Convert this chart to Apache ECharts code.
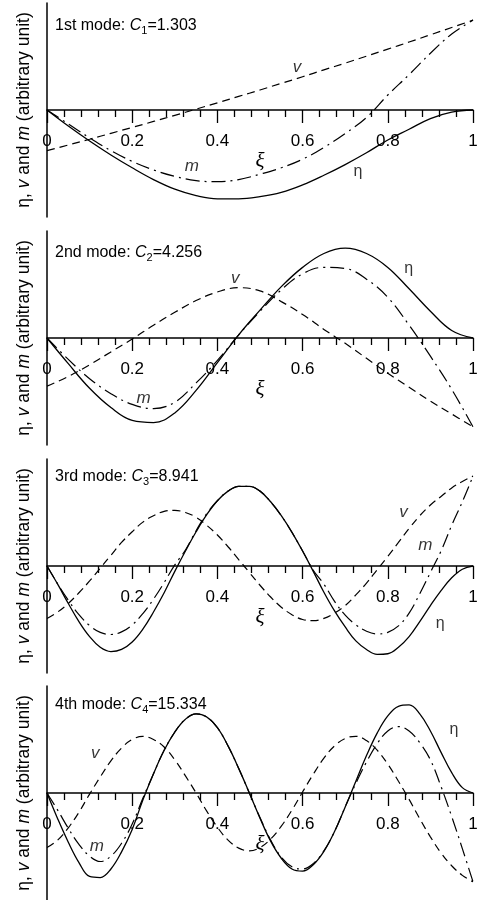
<!DOCTYPE html>
<html>
<head>
<meta charset="utf-8">
<script src="https://cdn.jsdelivr.net/npm/echarts@6/dist/echarts.min.js"></script>
<style>
html,body{margin:0;padding:0;background:#fff;}
#c{width:485px;height:900px;}
</style>
</head>
<body>
<div id="c"></div>
<script>
// ---- data ----
const xiCoarse = [0,0.05,0.1,0.15,0.2,0.25,0.3,0.35,0.4,0.45,0.5,0.55,0.6,0.65,0.7,0.75,0.8,0.85,0.9,0.95,1];
const xiFine = [0,0.025,0.05,0.075,0.1,0.125,0.15,0.175,0.2,0.225,0.25,0.275,0.3,0.325,0.35,0.375,0.4,0.425,0.45,0.475,0.5,
                0.525,0.55,0.575,0.6,0.625,0.65,0.675,0.7,0.725,0.75,0.775,0.8,0.825,0.85,0.875,0.9,0.925,0.95,0.975,1];
const xTickLabels = ['0','0.2','0.4','0.6','0.8','1'];
const modeNames = ['1st','2nd','3rd','4th'];
const modeC = ['1.303','4.256','8.941','15.334'];

// mode 1 (sampled on xiCoarse)
const eta1 = [0,-0.15,-0.29,-0.42,-0.54,-0.65,-0.74,-0.80,-0.83,-0.83,-0.81,-0.77,-0.70,-0.61,-0.51,-0.40,-0.28,-0.18,-0.08,-0.02,0];
const v1   = [-0.38,-0.327,-0.273,-0.218,-0.163,-0.107,-0.05,0.008,0.067,0.127,0.187,0.249,0.311,0.375,0.438,0.503,0.569,0.635,0.703,0.771,0.84];
const m1   = [0,-0.13,-0.26,-0.38,-0.48,-0.56,-0.62,-0.66,-0.67,-0.65,-0.60,-0.54,-0.46,-0.35,-0.22,-0.07,0.14,0.33,0.53,0.71,0.84];

// mode 2 (sampled on xiCoarse)
const eta2 = [0,-0.24,-0.47,-0.65,-0.77,-0.79,-0.70,-0.49,-0.23,0.03,0.26,0.48,0.66,0.79,0.84,0.79,0.66,0.46,0.25,0.07,0];
const v2   = [-0.45,-0.36,-0.25,-0.13,-0.01,0.12,0.24,0.35,0.43,0.47,0.44,0.34,0.22,0.08,-0.05,-0.19,-0.33,-0.46,-0.59,-0.71,-0.83];
const m2   = [0,-0.20,-0.38,-0.52,-0.62,-0.66,-0.60,-0.42,-0.21,0.03,0.25,0.45,0.60,0.66,0.65,0.55,0.38,0.12,-0.17,-0.48,-0.83];

// mode 3 (sampled on xiFine)
const eta3 = [0,-0.17,-0.35,-0.52,-0.66,-0.76,-0.80,-0.78,-0.71,-0.59,-0.43,-0.25,-0.05,0.14,0.32,0.48,0.61,0.70,0.745,0.745,0.70,
              0.60,0.47,0.315,0.14,-0.05,-0.245,-0.42,-0.57,-0.70,-0.78,-0.825,-0.82,-0.76,-0.66,-0.52,-0.37,-0.23,-0.11,-0.03,0];
const v3   = [-0.49,-0.43,-0.35,-0.25,-0.14,-0.02,0.10,0.22,0.32,0.41,0.47,0.51,0.52,0.50,0.455,0.38,0.29,0.18,0.06,-0.06,-0.18,
              -0.29,-0.385,-0.455,-0.50,-0.51,-0.49,-0.44,-0.37,-0.27,-0.16,-0.035,0.09,0.22,0.35,0.47,0.57,0.65,0.73,0.79,0.84];
const m3   = [0,-0.167,-0.32,-0.455,-0.556,-0.62,-0.64,-0.616,-0.55,-0.445,-0.31,-0.155,0.01,0.15,0.33,0.49,0.61,0.70,0.745,0.745,0.70,
              0.60,0.47,0.315,0.14,-0.04,-0.17,-0.33,-0.46,-0.55,-0.61,-0.635,-0.62,-0.56,-0.44,-0.26,-0.06,0.14,0.38,0.60,0.84];

// mode 4 (sampled on xiFine)
const eta4 = [0,-0.24,-0.46,-0.65,-0.78,-0.79,-0.71,-0.55,-0.34,-0.065,0.18,0.40,0.57,0.69,0.74,0.71,0.61,0.44,0.23,0,-0.235,
              -0.45,-0.61,-0.71,-0.73,-0.67,-0.545,-0.36,-0.13,0.11,0.35,0.56,0.72,0.81,0.823,0.74,0.58,0.38,0.19,0.05,0];
const v4   = [-0.51,-0.44,-0.325,-0.18,-0.01,0.15,0.30,0.42,0.50,0.53,0.50,0.43,0.31,0.16,0,-0.17,-0.32,-0.44,-0.515,-0.54,-0.51,
              -0.43,-0.31,-0.16,0.01,0.175,0.325,0.44,0.51,0.53,0.49,0.40,0.27,0.11,-0.06,-0.24,-0.41,-0.56,-0.68,-0.77,-0.83];
const m4   = [0,-0.16,-0.33,-0.48,-0.59,-0.64,-0.59,-0.47,-0.29,-0.05,0.18,0.40,0.57,0.69,0.74,0.71,0.61,0.44,0.23,0,-0.23,
              -0.44,-0.60,-0.69,-0.71,-0.66,-0.54,-0.36,-0.13,0.09,0.29,0.46,0.58,0.62,0.58,0.47,0.31,0.06,-0.22,-0.52,-0.83];

const xiAll = [xiCoarse, xiCoarse, xiFine, xiFine];
const etaAll = [eta1, eta2, eta3, eta4];
const vAll = [v1, v2, v3, v4];
const mAll = [m1, m2, m3, m4];

// curve label anchors (data coordinates): [xi, value, text]
const curveLabels = [
  [[0.587, 0.40, 'v'], [0.34, -0.53, 'm'], [0.73, -0.58, 'η']],
  [[0.442, 0.56, 'v'], [0.227, -0.56, 'm'], [0.849, 0.65, 'η']],
  [[0.837, 0.50, 'v'], [0.888, 0.19, 'm'], [0.923, -0.54, 'η']],
  [[0.113, 0.37, 'v'], [0.117, -0.50, 'm'], [0.955, 0.59, 'η']]
];

// ---- layout / style ----
const FONT = 'Liberation Sans, Arial, sans-serif';
const gridTops = [3, 231, 459, 686];
const gridH = 214;
const titleTops = [16, 243, 467, 695];

const grids = [], xAxes = [], yAxes = [], series = [], titles = [];
for (let i = 0; i < 4; i++) {
  grids.push({left: 47, right: 12, top: gridTops[i], height: gridH, outerBoundsMode: 'none', containLabel: false});
  xAxes.push({
    type: 'value', gridIndex: i, min: 0, max: 1, interval: 0.2,
    position: 'bottom', offset: -gridH / 2,
    axisLine: {show: true, onZero: false, lineStyle: {color: '#000', width: 1.5}},
    axisTick: {show: true, length: 13, lineStyle: {color: '#000', width: 1.3}},
    minorTick: {show: true, splitNumber: 5, length: 7, lineStyle: {color: '#000', width: 1.3}},
    splitLine: {show: false}, minorSplitLine: {show: false},
    axisLabel: {color: '#000', fontSize: 17, fontFamily: FONT, margin: 23,
      formatter: v => xTickLabels[Math.round(v / 0.2)]},
    name: 'ξ', nameLocation: 'middle', nameGap: 35,
    nameTextStyle: {color: '#000', fontSize: 21, fontStyle: 'italic', fontFamily: 'Liberation Serif, DejaVu Serif, serif'}
  });
  yAxes.push({
    type: 'value', gridIndex: i, min: -1, max: 1,
    axisLine: {show: true, onZero: false, lineStyle: {color: '#000', width: 1.5}},
    axisTick: {show: false}, axisLabel: {show: false}, splitLine: {show: false},
    name: '{n|η, }{i|v}{n| and }{i|m}{n| (arbitrary unit)}',
    nameLocation: 'middle', nameGap: 14, nameRotate: 90,
    nameTextStyle: {color: '#000', fontFamily: FONT, fontSize: 17.5,
      rich: {n: {fontSize: 17.5, fontFamily: FONT, color: '#000'},
             i: {fontSize: 17.5, fontFamily: FONT, fontStyle: 'italic', color: '#000'}}}
  });
  const xs = xiAll[i];
  const mk = (arr) => xs.map((x, k) => [x, arr[k]]);
  series.push({type: 'line', xAxisIndex: i, yAxisIndex: i, data: mk(etaAll[i]), smooth: 0.4,
    showSymbol: false, lineStyle: {color: '#000', width: 1.3, type: 'solid'}, z: 3});
  series.push({type: 'line', xAxisIndex: i, yAxisIndex: i, data: mk(vAll[i]), smooth: 0.4,
    showSymbol: false, lineStyle: {color: '#000', width: 1.2, type: [8, 5]}, z: 3});
  series.push({type: 'line', xAxisIndex: i, yAxisIndex: i, data: mk(mAll[i]), smooth: 0.4,
    showSymbol: false, lineStyle: {color: '#000', width: 1.2, type: [14, 5, 2, 5]}, z: 3});
  series.push({type: 'scatter', xAxisIndex: i, yAxisIndex: i, symbolSize: 1,
    itemStyle: {color: 'rgba(0,0,0,0)'}, silent: true, z: 5,
    data: curveLabels[i].map(l => ({value: [l[0], l[1]],
      label: {show: true, position: 'inside', formatter: l[2], color: '#000', fontFamily: FONT,
        fontSize: l[2] === 'η' ? 16 : 17, fontStyle: l[2] === 'η' ? 'normal' : 'italic'}}))
  });
  titles.push({
    left: 55, top: titleTops[i], padding: 0,
    text: '{a|' + modeNames[i] + ' mode: }{i|C}{s|' + (i + 1) + '}{a|=' + modeC[i] + '}',
    textStyle: {fontWeight: 'normal', rich: {
      a: {fontSize: 16, fontFamily: FONT, color: '#000', fontWeight: 'normal', lineHeight: 20},
      i: {fontSize: 16, fontFamily: FONT, color: '#000', fontWeight: 'normal', fontStyle: 'italic', lineHeight: 20},
      s: {fontSize: 11, fontFamily: FONT, color: '#000', fontWeight: 'normal', verticalAlign: 'bottom', lineHeight: 10}
    }}
  });
}

const chart = echarts.init(document.getElementById('c'), null, {renderer: 'canvas'});
chart.setOption({
  animation: false,
  backgroundColor: '#fff',
  title: titles,
  grid: grids,
  xAxis: xAxes,
  yAxis: yAxes,
  series: series
});
</script>
</body>
</html>
